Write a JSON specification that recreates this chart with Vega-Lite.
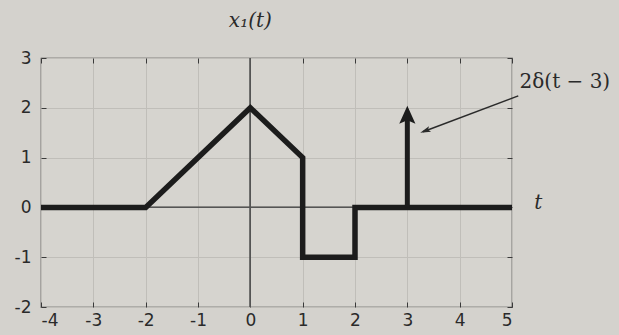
{
  "$schema": "https://vega.github.io/schema/vega-lite/v6.json",
  "autosize": "none",
  "width": 471,
  "height": 249,
  "padding": {"left": 41, "top": 58, "right": 107, "bottom": 28},
  "background": "#d4d2cd",
  "config": {
    "view": {"stroke": "#3a3a3a", "strokeWidth": 1.2, "fill": "#d6d4cf"},
    "axis": {"labelFont": "DejaVu Sans", "labelFontSize": 17, "labelColor": "#2a2a2a", "tickColor": "#3a3a3a", "domain": false, "gridColor": "#c0beb9", "gridWidth": 1, "title": null, "labelExpr": "replace(datum.label, '−', '-')"}
  },
  "datasets": {
    "signal": [
      {"t": -4, "x": 0, "o": 1},
      {"t": -2, "x": 0, "o": 2},
      {"t": 0, "x": 2, "o": 3},
      {"t": 1, "x": 1, "o": 4},
      {"t": 1, "x": -1, "o": 5},
      {"t": 2, "x": -1, "o": 6},
      {"t": 2, "x": 0, "o": 7},
      {"t": 5, "x": 0, "o": 8}
    ],
    "impulse": [{"t": 3, "y0": 0, "y1": 1.9, "head": 1.86}],
    "annot": [{"t0": 5.12, "y0": 2.24, "t1": 3.3, "y1": 1.52, "ht": 3.34, "hy": 1.536}],
    "labels": [
      {"t": 0, "y": 3.75, "label": "x₁(t)", "kind": "title"},
      {"t": 6.01, "y": 2.52, "label": "2δ(t − 3)", "kind": "annot"},
      {"t": 5.5, "y": 0.09, "label": "t", "kind": "t"}
    ]
  },
  "layer": [
    {
      "data": {"name": "signal"},
      "mark": {"type": "rule", "color": "#555", "strokeWidth": 1},
      "encoding": {
        "x": {"datum": 0, "type": "quantitative", "scale": {"domain": [-4, 5], "nice": false, "zero": false},
              "axis": {"orient": "top", "values": [-4,-3,-2,-1,0,1,2,3,4,5], "labels": false, "grid": false, "tickSize": -5}},
        "y": {"datum": -2, "type": "quantitative", "scale": {"domain": [-2, 3], "nice": false, "zero": false},
              "axis": {"orient": "right", "values": [-2,-1,0,1,2,3], "labels": false, "grid": false, "tickSize": -5}},
        "y2": {"datum": 3}
      }
    },
    {
      "data": {"name": "signal"},
      "mark": {"type": "rule", "color": "#555", "strokeWidth": 1},
      "encoding": {
        "x": {"datum": -4, "type": "quantitative", "axis": null},
        "x2": {"datum": 5},
        "y": {"datum": 0, "type": "quantitative", "axis": null}
      }
    },
    {
      "data": {"name": "signal"},
      "mark": {"type": "line", "color": "#1c1c1c", "strokeWidth": 5.5, "strokeJoin": "miter", "strokeCap": "butt"},
      "encoding": {
        "x": {"field": "t", "type": "quantitative",
              "axis": {"orient": "bottom", "values": [-4,-3,-2,-1,0,1,2,3,4,5], "grid": true, "tickSize": -5, "labelPadding": 10}},
        "y": {"field": "x", "type": "quantitative",
              "axis": {"orient": "left", "values": [-2,-1,0,1,2,3], "grid": true, "tickSize": -5, "labelPadding": 15}},
        "order": {"field": "o"}
      }
    },
    {
      "data": {"name": "impulse"},
      "mark": {"type": "rule", "color": "#1c1c1c", "strokeWidth": 5},
      "encoding": {
        "x": {"field": "t", "type": "quantitative", "axis": null},
        "y": {"field": "y0", "type": "quantitative", "axis": null},
        "y2": {"field": "y1"}
      }
    },
    {
      "data": {"name": "impulse"},
      "mark": {"type": "point", "shape": "M0,-1L0.9,1L0,0.6L-0.9,1Z", "filled": true, "color": "#1c1c1c", "opacity": 1, "size": 324},
      "encoding": {
        "x": {"field": "t", "type": "quantitative", "axis": null},
        "y": {"field": "head", "type": "quantitative", "axis": null}
      }
    },
    {
      "data": {"name": "annot"},
      "mark": {"type": "rule", "color": "#2a2a2a", "strokeWidth": 1.5},
      "encoding": {
        "x": {"field": "t0", "type": "quantitative", "axis": null},
        "y": {"field": "y0", "type": "quantitative", "axis": null},
        "x2": {"field": "t1"},
        "y2": {"field": "y1"}
      }
    },
    {
      "data": {"name": "annot"},
      "mark": {"type": "point", "shape": "M-1,0L1,-0.55L0.6,0L1,0.55Z", "filled": true, "color": "#2a2a2a", "opacity": 1, "size": 110, "angle": -21},
      "encoding": {
        "x": {"field": "ht", "type": "quantitative", "axis": null},
        "y": {"field": "hy", "type": "quantitative", "axis": null}
      }
    },
    {
      "data": {"name": "labels"},
      "transform": [{"filter": "datum.kind !== 'annot'"}],
      "mark": {"type": "text", "font": "DejaVu Serif", "fontSize": 20, "fontStyle": "italic", "color": "#2a2a2a", "align": "center", "baseline": "middle"},
      "encoding": {
        "x": {"field": "t", "type": "quantitative", "axis": null},
        "y": {"field": "y", "type": "quantitative", "axis": null},
        "text": {"field": "label"}
      }
    },
    {
      "data": {"name": "labels"},
      "transform": [{"filter": "datum.kind === 'annot'"}],
      "mark": {"type": "text", "font": "DejaVu Serif", "fontSize": 20, "color": "#2a2a2a", "align": "center", "baseline": "middle"},
      "encoding": {
        "x": {"field": "t", "type": "quantitative", "axis": null},
        "y": {"field": "y", "type": "quantitative", "axis": null},
        "text": {"field": "label"}
      }
    }
  ],
  "resolve": {"axis": {"x": "independent", "y": "independent"}}
}
